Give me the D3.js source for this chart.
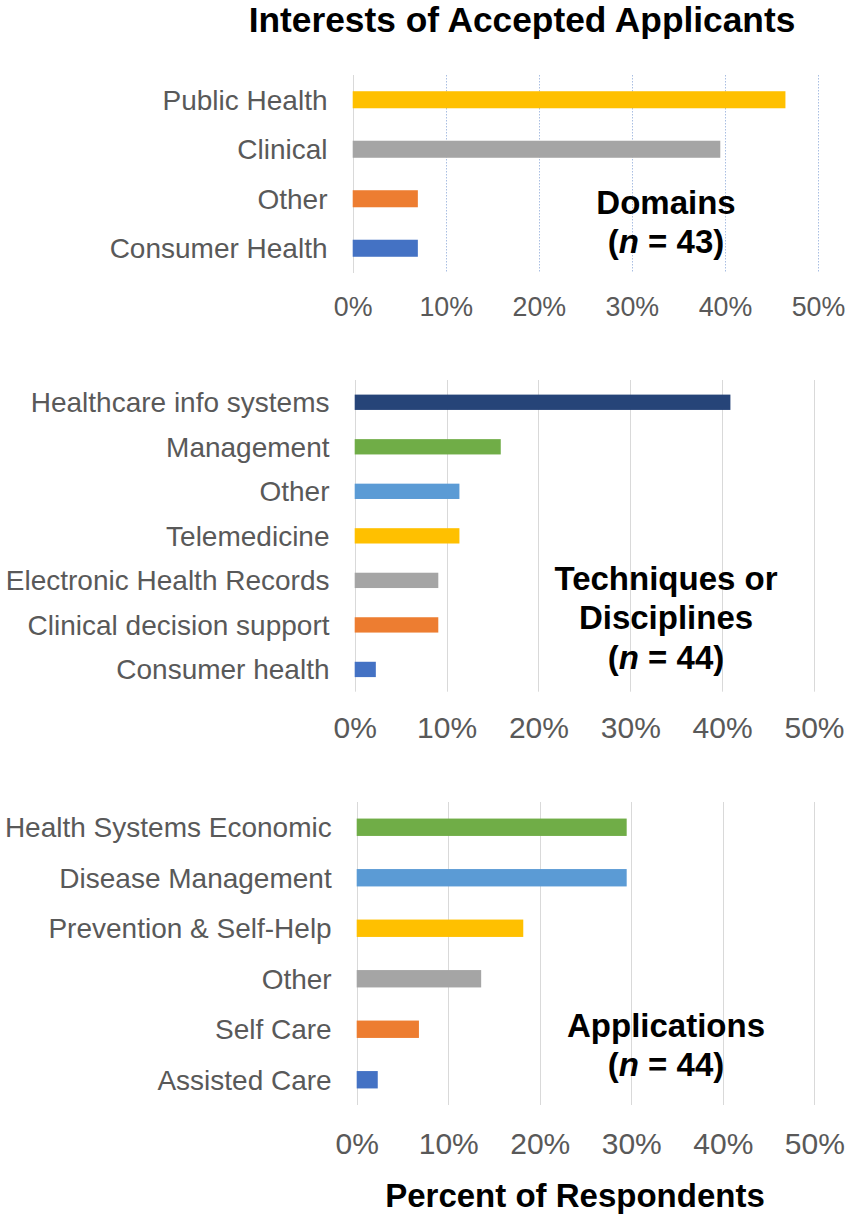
<!DOCTYPE html>
<html>
<head>
<meta charset="utf-8">
<script src="https://cdn.jsdelivr.net/npm/d3@7"></script>
<style>
  body { margin: 0; background: #fff; }
  svg { display: block; font-family: "Liberation Sans", Arial, sans-serif; }
</style>
</head>
<body>
<script>
// Data
var domainCats = ['Public Health', 'Clinical', 'Other', 'Consumer Health'];
var domainVals = [0.465, 0.395, 0.070, 0.070];
var domainColors = ['#FFC000', '#A5A5A5', '#ED7D31', '#4472C4'];

var techCats = ['Healthcare info systems', 'Management', 'Other', 'Telemedicine',
  'Electronic Health Records', 'Clinical decision support', 'Consumer health'];
var techVals = [0.409, 0.159, 0.114, 0.114, 0.091, 0.091, 0.023];
var techColors = ['#264478', '#70AD47', '#5B9BD5', '#FFC000', '#A5A5A5', '#ED7D31', '#4472C4'];

var appCats = ['Health Systems Economic', 'Disease Management', 'Prevention & Self-Help',
  'Other', 'Self Care', 'Assisted Care'];
var appVals = [0.295, 0.295, 0.182, 0.136, 0.068, 0.023];
var appColors = ['#70AD47', '#5B9BD5', '#FFC000', '#A5A5A5', '#ED7D31', '#4472C4'];

var tickValues = [0, 0.1, 0.2, 0.3, 0.4, 0.5];

var width = 851;
var height = 1219;

var svg = d3.select('body').append('svg')
  .attr('width', width)
  .attr('height', height);

// chart title
svg.append('text')
  .attr('x', 522).attr('y', 32)
  .attr('text-anchor', 'middle')
  .style('font-size', '35.3px').style('font-weight', 'bold')
  .attr('fill', '#000')
  .text('Interests of Accepted Applicants');

// one horizontal bar panel
function panel(opts) {
  var g = svg.append('g');

  var x = d3.scaleLinear().domain([0, 0.5]).range([opts.x0, opts.x1]);
  var y = d3.scaleBand().domain(opts.cats).range([opts.top, opts.bottom])
    .paddingInner(0.656).paddingOuter(0.328);

  // gridlines
  g.selectAll('.grid')
    .data(tickValues)
    .enter().append('line')
    .attr('x1', function (d) { return Math.round(x(d)) + 0.5; })
    .attr('x2', function (d) { return Math.round(x(d)) + 0.5; })
    .attr('y1', opts.top)
    .attr('y2', opts.bottom)
    .attr('stroke', function (d) { return (opts.dotted && d > 0) ? '#A9BEE2' : '#D9D9D9'; })
    .attr('stroke-width', 1)
    .attr('stroke-dasharray', function (d) { return (opts.dotted && d > 0) ? '1.5,1.5' : null; });

  // bars
  g.selectAll('.bar')
    .data(opts.vals)
    .enter().append('rect')
    .attr('x', x(0))
    .attr('y', function (d, i) { return y(opts.cats[i]); })
    .attr('width', function (d) { return x(d) - x(0); })
    .attr('height', y.bandwidth())
    .attr('fill', function (d, i) { return opts.colors[i]; });

  // category labels
  g.selectAll('.cat')
    .data(opts.cats)
    .enter().append('text')
    .attr('x', opts.labelX)
    .attr('y', function (d) { return y(d) + y.bandwidth() / 2; })
    .attr('dy', '0.35em')
    .attr('text-anchor', 'end')
    .style('font-size', '28px')
    .attr('fill', '#595959')
    .text(function (d) { return d; });

  // x axis tick labels
  var axis = d3.axisBottom(x)
    .tickValues(tickValues)
    .tickFormat(d3.format('.0%'))
    .tickSize(0);

  var ax = g.append('g')
    .attr('transform', 'translate(0,' + opts.tickY + ')')
    .call(axis);
  ax.select('.domain').remove();
  ax.selectAll('text')
    .attr('y', 0).attr('dy', 0)
    .style('font-size', opts.tickSize + 'px')
    .style('font-family', '"Liberation Sans", Arial, sans-serif')
    .attr('fill', '#595959');

  // annotation block
  var note = g.append('text')
    .attr('text-anchor', 'middle')
    .style('font-size', '33px').style('font-weight', 'bold')
    .attr('fill', '#000');
  opts.note.forEach(function (line, i) {
    note.append('tspan')
      .attr('x', 666)
      .attr('y', opts.noteY + i * 39.3)
      .text(line);
  });
  note.append('tspan')
    .attr('x', 666)
    .attr('y', opts.noteY + opts.note.length * 39.3)
    .text('(');
  note.append('tspan').style('font-style', 'italic').text('n');
  note.append('tspan').text(' = ' + opts.n + ')');
}

panel({
  cats: domainCats, vals: domainVals, colors: domainColors,
  x0: 352.7, x1: 818, top: 75, bottom: 273,
  labelX: 327.5, tickY: 316, tickSize: 26.8, dotted: true,
  note: ['Domains'], n: 43, noteY: 214
});

panel({
  cats: techCats, vals: techVals, colors: techColors,
  x0: 354.7, x1: 814, top: 380, bottom: 691.7,
  labelX: 329.5, tickY: 738, tickSize: 30, dotted: false,
  note: ['Techniques or', 'Disciplines'], n: 44, noteY: 590
});

panel({
  cats: appCats, vals: appVals, colors: appColors,
  x0: 356.7, x1: 814.3, top: 802, bottom: 1105,
  labelX: 331.7, tickY: 1154, tickSize: 30, dotted: false,
  note: ['Applications'], n: 44, noteY: 1037
});

// x axis title
svg.append('text')
  .attr('x', 575).attr('y', 1206.5)
  .attr('text-anchor', 'middle')
  .style('font-size', '33px').style('font-weight', 'bold')
  .attr('fill', '#000')
  .text('Percent of Respondents');
</script>
</body>
</html>
